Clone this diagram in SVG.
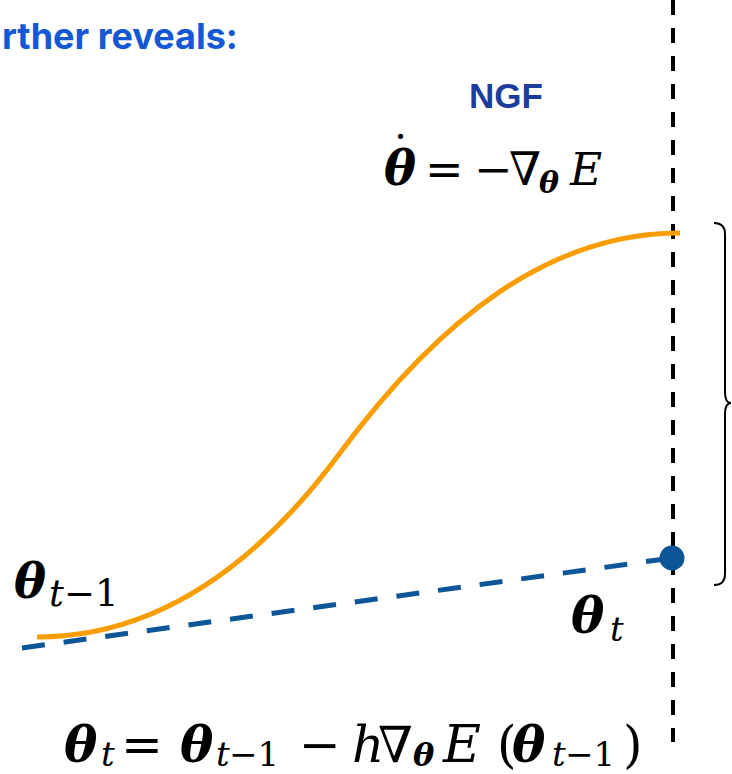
<svg xmlns="http://www.w3.org/2000/svg" width="732" height="774" viewBox="0 0 732 774">
<style>
.m{font-family:"DejaVu Serif","Liberation Serif",serif;fill:#000}
.b{font-weight:bold;font-style:italic}
.i{font-style:italic}
</style>
<rect width="732" height="774" fill="#fff"/>
<g id="title"><text x="2" y="49" font-family="Inter,'Open Sans',sans-serif" font-weight="700" font-size="36" fill="#1558D6">rther reveals:</text></g>
<g id="ngf-label"><text x="506" y="108" text-anchor="middle" font-family="'Liberation Sans',Arial,sans-serif" font-weight="700" font-size="35" fill="#1C3D9B">NGF</text></g>
<g id="connectors">
<line id="time-line" x1="673" y1="0" x2="673" y2="742" stroke="#000" stroke-width="4" stroke-dasharray="15 13"/>
<path id="ngf-curve" d="M37,637 C150,637 250,574.5 340,453 C440,318 550,233 680,233" fill="none" stroke="#F99D00" stroke-width="5"/>
<line id="euler-step" x1="22" y1="648" x2="672" y2="558" stroke="#0C5597" stroke-width="5" stroke-dasharray="23 19"/>
<path id="brace" d="M714,223 Q725,223 725,234 L725,392 Q725,403 731,403 Q725,403 725,414 L725,574 Q725,585 714,585" fill="none" stroke="#000" stroke-width="2"/>
</g>
<g id="theta-t-point"><circle cx="672" cy="558" r="12.5" fill="#0C5597"/></g>
<g id="ngf-equation" class="m">
<text x="389" y="170" font-size="46">˙</text>
<text x="384" y="185" font-size="48" class="b">θ</text>
<text x="425" y="185" font-size="46">=</text>
<text x="474" y="185" font-size="46">−</text>
<text x="509" y="185" font-size="46">∇</text>
<text x="539" y="193" font-size="30" class="b">θ</text>
<text x="570" y="185" font-size="44" class="i">E</text>
</g>
<g id="label-theta-t-1" class="m">
<text x="14" y="598" font-size="48" class="b">θ</text>
<text x="49" y="606" font-size="37" class="i">t</text>
<text x="64" y="606" font-size="37">−1</text>
</g>
<g id="label-theta-t" class="m">
<text x="571" y="633" font-size="50" class="b">θ</text>
<text x="610" y="641" font-size="34" class="i">t</text>
</g>
<g id="euler-equation" class="m">
<text x="64" y="762" font-size="50" class="b">θ</text>
<text x="101" y="766" font-size="34" class="i">t</text>
<text x="121" y="762" font-size="50">=</text>
<text x="180" y="762" font-size="50" class="b">θ</text>
<text x="216" y="766" font-size="34" class="i">t</text>
<text x="229" y="766" font-size="34">−1</text>
<text x="299" y="762" font-size="50">−</text>
<text x="352" y="762" font-size="50" class="i">h</text>
<text x="378" y="762" font-size="50">∇</text>
<text x="413" y="766" font-size="32" class="b">θ</text>
<text x="443" y="762" font-size="52" class="i">E</text>
<text x="497" y="762" font-size="50">(</text>
<text x="512" y="762" font-size="50" class="b">θ</text>
<text x="552" y="766" font-size="34" class="i">t</text>
<text x="565" y="766" font-size="34">−1</text>
<text x="623" y="762" font-size="50">)</text>
</g>
</svg>
